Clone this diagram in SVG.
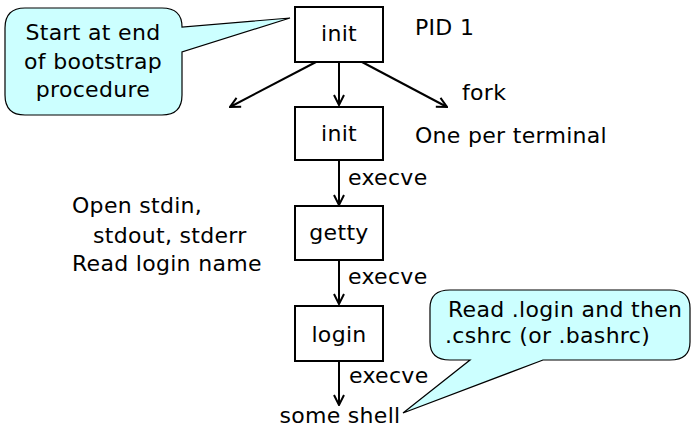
<svg xmlns="http://www.w3.org/2000/svg" width="696" height="430" viewBox="0 0 696 430">
<defs>
<marker id="ah" viewBox="0 0 12 12" refX="11" refY="6" markerWidth="12" markerHeight="12" markerUnits="userSpaceOnUse" orient="auto">
<path d="M1,1 L11,6 L1,11" fill="none" stroke="#000" stroke-width="2"/>
</marker>
</defs>
<style>
text{font-family:"DejaVu Sans","Open Sans",sans-serif;font-size:22px;letter-spacing:0.3px;fill:#000}
.c{text-anchor:middle}
.box{fill:#fff;stroke:#000;stroke-width:2}
.call{fill:#ccffff;stroke:#000;stroke-width:1.2}
.conn{stroke:#000;stroke-width:2;fill:none;marker-end:url(#ah)}
</style>
<rect width="696" height="430" fill="#fff"/>
<g id="callout-start">
<path class="call" d="M25,8 H162 Q182,8 182,27 L290,18 L182,52 V95 Q182,115 162,115 H25 Q5,115 5,95 V28 Q5,8 25,8 Z"/>
<text class="c" x="93" y="40">Start at end</text>
<text class="c" x="93" y="69">of bootstrap</text>
<text class="c" x="93" y="97">procedure</text>
</g>
<g id="callout-read">
<path class="call" d="M450,290 H670 Q690,290 690,308 V342 Q690,360 670,360 H543 L403,413 L470,360 H450 Q430,360 430,342 V308 Q430,290 450,290 Z"/>
<text x="448" y="317">Read .login and then</text>
<text x="445" y="343">.cshrc (or .bashrc)</text>
</g>
<g id="connectors">
<line class="conn" x1="316" y1="62" x2="230" y2="107"/>
<line class="conn" x1="339" y1="62" x2="339" y2="105"/>
<line class="conn" x1="362" y1="62" x2="447" y2="107"/>
<line class="conn" x1="339" y1="160" x2="339" y2="205"/>
<line class="conn" x1="339" y1="260" x2="339" y2="304"/>
<line class="conn" x1="339" y1="361" x2="339" y2="405"/>
</g>
<g id="init1">
<rect class="box" x="295" y="7" width="88" height="55"/>
<text class="c" x="339" y="41">init</text>
</g>
<g id="init2">
<rect class="box" x="295" y="107" width="88" height="53"/>
<text class="c" x="339" y="141">init</text>
</g>
<g id="getty">
<rect class="box" x="295" y="206" width="88" height="54"/>
<text class="c" x="339" y="240">getty</text>
</g>
<g id="login">
<rect class="box" x="295" y="306" width="88" height="55"/>
<text class="c" x="339" y="342">login</text>
</g>
<g id="shell">
<text class="c" x="340" y="423">some shell</text>
</g>
<g id="labels">
<text x="415" y="35">PID 1</text>
<text x="462" y="100">fork</text>
<text x="415" y="143">One per terminal</text>
<text x="348" y="185">execve</text>
<text x="348" y="284">execve</text>
<text x="349" y="383">execve</text>
<text x="72" y="213">Open stdin,</text>
<text x="93" y="243">stdout, stderr</text>
<text x="72" y="271">Read login name</text>
</g>
</svg>
